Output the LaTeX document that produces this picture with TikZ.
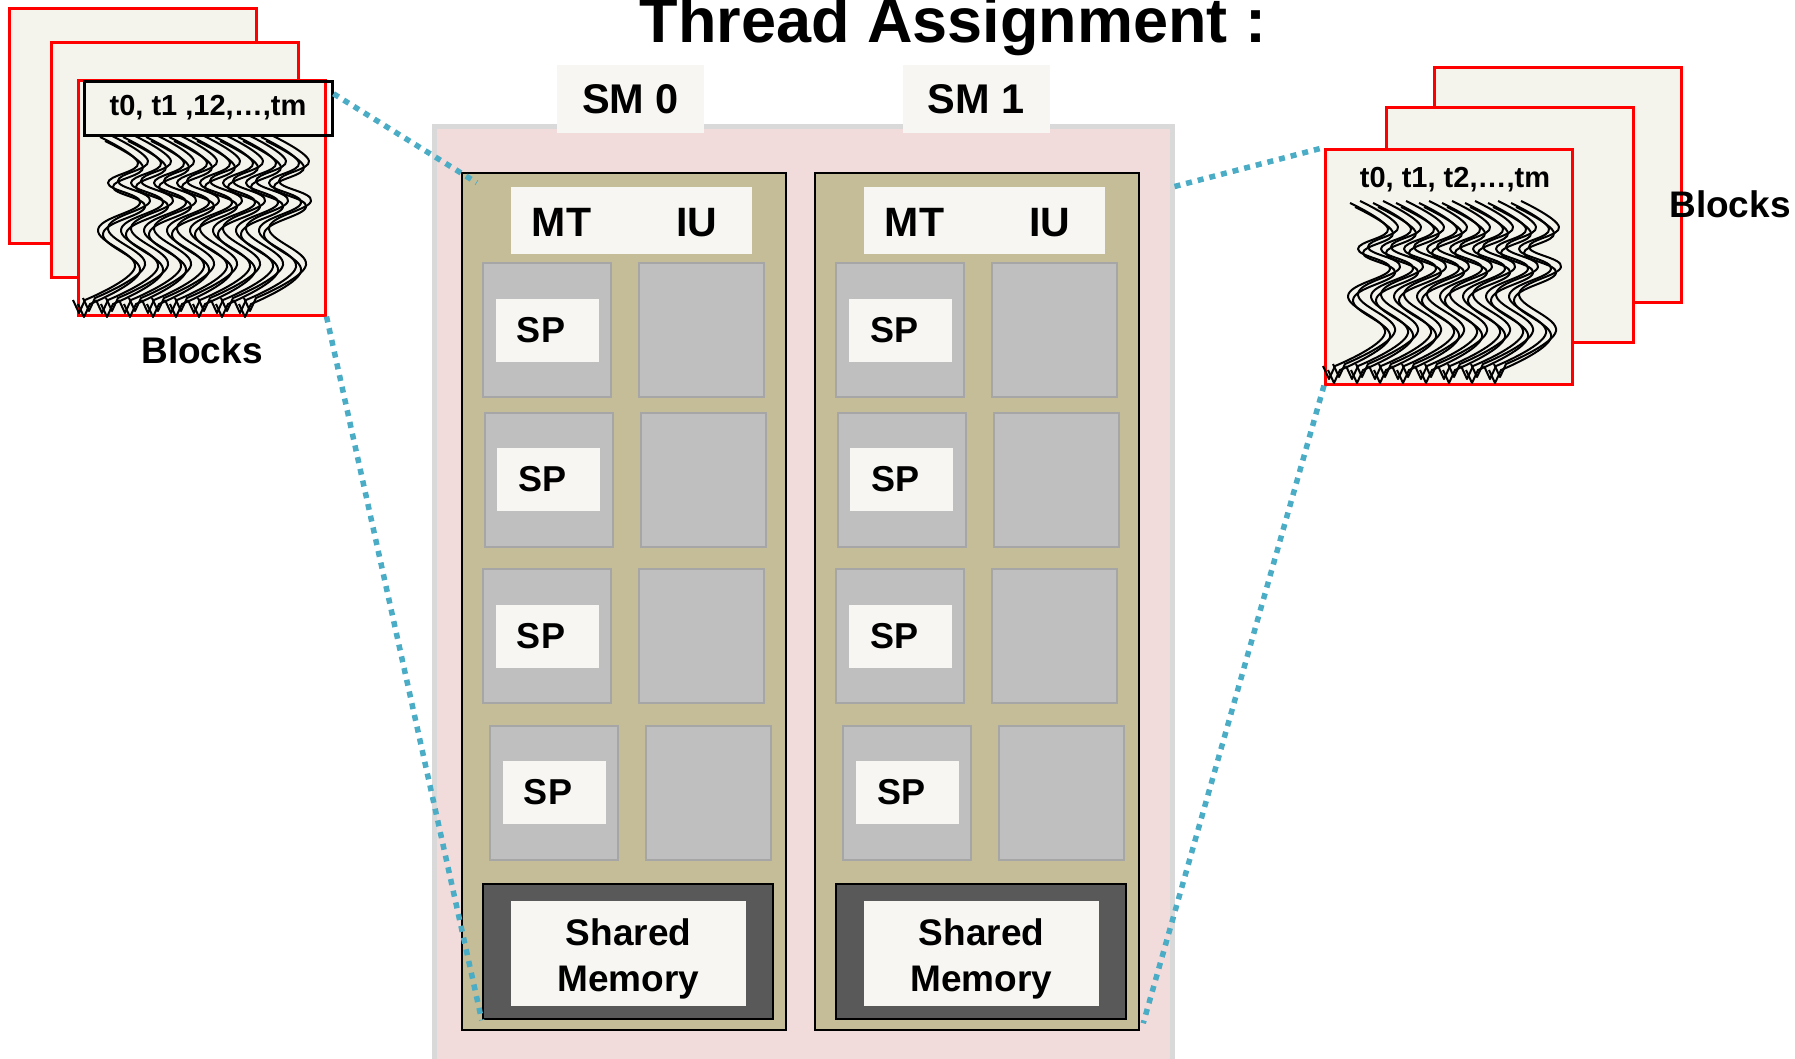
\documentclass[tikz,border=0pt]{standalone}
\usepackage{fontspec}
\setmainfont{Liberation Sans}
\usetikzlibrary{positioning, calc}

\definecolor{cardcream}{RGB}{244,243,236}
\definecolor{labelwhite}{RGB}{247,246,242}
\definecolor{panelpink}{RGB}{242,220,219}
\definecolor{panelgray}{RGB}{217,217,217}
\definecolor{corekhaki}{RGB}{196,189,151}
\definecolor{cellgray}{RGB}{191,191,191}
\definecolor{celledge}{RGB}{166,166,166}
\definecolor{memdark}{RGB}{89,89,89}
\definecolor{linkblue}{RGB}{75,172,198}

% a bundle of wavy threads, 8 groups of 3, starting at (#1,#2)
\newcommand{\drawthreads}[2]{%
  \foreach \g in {0,...,7}
    \foreach \dx/\dy in {0/0, 5/4, 10/-2}
      \draw[thread, shift={(#1+23*\g+\dx, #2+\dy)}]
        plot[smooth, tension=0.7] coordinates {(0,0) (38,26) (8,46) (40,66) (-2,93) (35,130) (-15,163)}
        -- ++(-6,13) -- ++(-6,-13);
}

\begin{document}
\begin{tikzpicture}[
    x=1pt, y=-1pt,
    font=\bfseries,
    title/.style={font=\bfseries\fontsize{63}{70}\selectfont, anchor=base},
    card/.style={
        draw=red, line width=3pt, fill=cardcream,
        minimum width=247pt, minimum height=235pt, inner sep=0pt,
    },
    tagbox/.style={
        draw=black, line width=3pt, minimum width=248pt, minimum height=54pt,
        inner sep=0pt, font=\bfseries\fontsize{29}{32}\selectfont,
    },
    tagtext/.style={font=\bfseries\fontsize{29}{32}\selectfont, anchor=base},
    caption/.style={font=\bfseries\fontsize{37}{42}\selectfont, anchor=base},
    panel/.style={
        draw=panelgray, line width=5pt, fill=panelpink,
        minimum width=738pt, minimum height=944pt, inner sep=0pt,
    },
    smtag/.style={
        fill=labelwhite, minimum width=147pt, minimum height=68pt,
        inner sep=0pt, font=\bfseries\fontsize{41.5}{46}\selectfont,
    },
    core/.style={
        draw=black, line width=2.5pt, fill=corekhaki,
        minimum width=324pt, minimum height=857pt, inner sep=0pt,
    },
    unitbar/.style={fill=labelwhite, minimum width=241pt, minimum height=67pt, inner sep=0pt},
    unittext/.style={font=\bfseries\fontsize{41}{46}\selectfont},
    cell/.style={
        draw=celledge, line width=2pt, fill=cellgray,
        minimum width=128pt, minimum height=134pt, inner sep=0pt,
    },
    sptag/.style={
        fill=labelwhite, minimum width=103pt, minimum height=63pt,
        inner sep=0pt, font=\bfseries\fontsize{36}{40}\selectfont,
    },
    shmem/.style={
        draw=black, line width=2.5pt, fill=memdark,
        minimum width=290pt, minimum height=135pt, inner sep=0pt,
    },
    shmemtag/.style={fill=labelwhite, minimum width=235pt, minimum height=105pt, inner sep=0pt},
    memtext/.style={align=center, font=\bfseries\fontsize{37}{46}\selectfont},
    link/.style={draw=linkblue, line width=5.5pt, dash pattern=on 6pt off 6pt},
    thread/.style={line width=2pt, line join=round},
]
\useasboundingbox (0,0) rectangle (1795,1058);

% title
\node[title] (title) at (953,42) {Thread Assignment :};

% streaming multiprocessors
\node[panel] (panel) at (803,598) {};
\foreach \i/\x in {0/630.5, 1/976}
    \node[smtag] (smtag\i) at (\x,99) {SM \i};

\foreach \i/\xo in {0/0, 1/353} {
  \begin{scope}[xshift=\xo pt]
    \node[core] (core\i) at (624,601.5) {};
    \node[unitbar] (bar\i) at (631.5,220.5) {};
    \node[unittext] (mt\i) at ([xshift=-70pt, yshift=-2pt]bar\i.center) {MT};
    \node[unittext] (iu\i) at ([xshift=65pt, yshift=-2pt]bar\i.center) {IU};
    % SP cells
    \foreach \r/\yc/\dx in {1/330/0, 2/479.5/1.5, 3/636/0, 4/792.5/7} {
        \node[cell] (sp\i\r) at (547+\dx,\yc) {};
        \node[cell, minimum width=125pt] (spare\i\r) at (701.5+\dx,\yc) {};
        \node[sptag] (sptag\i\r) at (sp\i\r) {SP\kern12pt};
    }
    \node[shmem] (mem\i) at (628,951.5) {};
    \node[shmemtag] (memtag\i) at (628.5,953.5) {};
    \node[memtext] (memtext\i) at ([yshift=-5pt]memtag\i.center) {Shared\\Memory};
  \end{scope}
}

% blocks, left stack
\node[card] (lb1) at (132.5,125.5) {};
\node[card] (lb2) at (174.5,160) {};
\node[card] (lb3) at (201.5,197.5) {};
\drawthreads{100}{137}
\node[tagbox] (tagL) at (208,108) {t0, t1 ,12,…,tm};
\node[caption] (blocksL) at (202,363) {Blocks};

% blocks, right stack
\node[card] (rb1) at (1557.5,184.5) {};
\node[card] (rb2) at (1509.5,224.5) {};
\node[card] (rb3) at (1449,266.5) {};
\drawthreads{1350}{203}
\node[tagtext] (tagR) at (1455,187) {t0, t1, t2,…,tm};
\node[caption] (blocksR) at (1730,217) {Blocks};

% assignment links
\draw[link] ($(tagL.north east)!0.25!(tagL.south east)$) -- ($(core0.north west)+(16,11)$);
\draw[link] (lb3.south east) -- (mem0.south west);
\draw[link] ($(panel.north east)+(0,63)$) -- (rb3.north west);
\draw[link] (rb3.south west) -- ($(core1.south east)+(3,-8)$);

\end{tikzpicture}
\end{document}
